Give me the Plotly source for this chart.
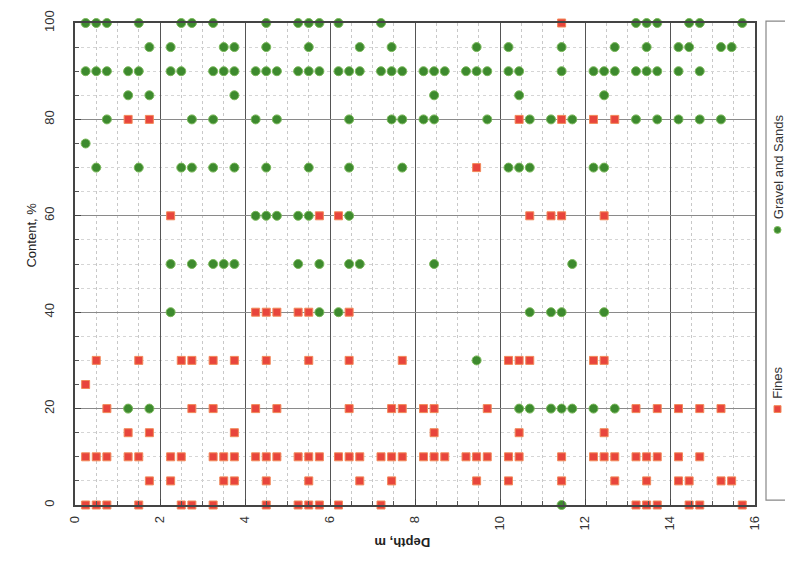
import plotly.graph_objects as go

# ---------------- data ----------------
# Fines (%) : content levels and the depths (m) at which each level occurs
fines_levels = [100, 80, 70, 60, 40, 30, 25, 20, 15, 10, 5, 0]
fines_depths_by_level = [
    [11.45],
    [1.25, 1.75, 10.45, 11.45, 12.2, 12.7],
    [9.45],
    [2.25, 5.75, 6.2, 10.7, 11.2, 11.45, 12.45],
    [4.25, 4.5, 4.75, 5.25, 5.5, 6.45],
    [0.5, 1.5, 2.5, 2.75, 3.25, 3.75, 4.5, 5.5, 6.45, 7.7, 10.2, 10.45, 10.7, 12.2, 12.45],
    [0.25],
    [0.75, 2.75, 3.25, 4.25, 4.75, 6.45, 7.45, 7.7, 8.2, 8.45, 9.7, 13.2, 13.7, 14.2, 14.7, 15.2],
    [1.25, 1.75, 3.75, 8.45, 10.45, 12.45],
    [0.25, 0.5, 0.75, 1.25, 1.5, 2.25, 2.5, 3.25, 3.5, 3.75, 4.25, 4.5, 4.75, 5.25, 5.5, 5.75,
     6.2, 6.45, 6.7, 7.2, 7.45, 7.7, 8.2, 8.45, 8.7, 9.2, 9.45, 9.7, 10.2, 10.45, 11.45, 12.2,
     12.45, 12.7, 13.2, 13.45, 13.7, 14.2, 14.7],
    [1.75, 2.25, 3.5, 3.75, 4.5, 5.5, 6.7, 7.45, 9.45, 10.2, 11.45, 12.7, 13.45, 14.2, 14.45, 15.2, 15.45],
    [0.25, 0.5, 0.75, 1.5, 2.5, 2.75, 3.25, 4.5, 5.25, 5.5, 5.75, 6.2, 7.2, 13.2, 13.45, 13.7, 14.45, 14.7, 15.7],
]

# Gravel and Sands (%)
gravel_levels = [100, 95, 90, 85, 80, 75, 70, 60, 50, 40, 30, 20, 0]
gravel_depths_by_level = [
    [0.25, 0.5, 0.75, 1.5, 2.5, 2.75, 3.25, 4.5, 5.25, 5.5, 5.75, 6.2, 7.2, 13.2, 13.45, 13.7, 14.45, 14.7, 15.7],
    [1.75, 2.25, 3.5, 3.75, 4.5, 5.5, 6.7, 7.45, 9.45, 10.2, 11.45, 12.7, 13.45, 14.2, 14.45, 15.2, 15.45],
    [0.25, 0.5, 0.75, 1.25, 1.5, 2.25, 2.5, 3.25, 3.5, 3.75, 4.25, 4.5, 4.75, 5.25, 5.5, 5.75,
     6.2, 6.45, 6.7, 7.2, 7.45, 7.7, 8.2, 8.45, 8.7, 9.2, 9.45, 9.7, 10.2, 10.45, 11.45, 12.2,
     12.45, 12.7, 13.2, 13.45, 13.7, 14.2, 14.7],
    [1.25, 1.75, 3.75, 8.45, 10.45, 12.45],
    [0.75, 2.75, 3.25, 4.25, 4.75, 6.45, 7.45, 7.7, 8.2, 8.45, 9.7, 10.7, 11.2, 11.7, 13.2, 13.7, 14.2, 14.7, 15.2],
    [0.25],
    [0.5, 1.5, 2.5, 2.75, 3.25, 3.75, 4.5, 5.5, 6.45, 7.7, 10.2, 10.45, 10.7, 12.2, 12.45],
    [4.25, 4.5, 4.75, 5.25, 5.5, 6.45],
    [2.25, 2.75, 3.25, 3.5, 3.75, 5.25, 5.75, 6.45, 6.7, 8.45, 11.7],
    [2.25, 5.75, 6.2, 10.7, 11.2, 11.45, 12.45],
    [9.45],
    [1.25, 1.75, 10.45, 10.7, 11.2, 11.45, 11.7, 12.2, 12.7],
    [11.45],
]

x_ticks = [0, 2, 4, 6, 8, 10, 12, 14, 16]
y_ticks = [0, 20, 40, 60, 80, 100]


def flatten(levels, depths_by_level):
    xs, ys = [], []
    for lvl, ds in zip(levels, depths_by_level):
        for d in ds:
            xs.append(d)
            ys.append(lvl)
    return xs, ys


fines_x, fines_y = flatten(fines_levels, fines_depths_by_level)
gravel_x, gravel_y = flatten(gravel_levels, gravel_depths_by_level)

RED = "#e8453c"
RED_EDGE = "#f28a5a"
GREEN = "#3d8a2e"
GREEN_EDGE = "#7ab85a"
FONT = "Liberation Sans, Arial, sans-serif"

fig = go.Figure()
fig.add_trace(go.Scatter(
    x=fines_x, y=fines_y, mode="markers", name="Fines",
    marker=dict(symbol="square", size=8, color=RED, line=dict(color=RED_EDGE, width=1)),
    showlegend=False, cliponaxis=False,
))
fig.add_trace(go.Scatter(
    x=gravel_x, y=gravel_y, mode="markers", name="Gravel and Sands",
    marker=dict(symbol="circle", size=9, color=GREEN, line=dict(color=GREEN_EDGE, width=1)),
    showlegend=False, cliponaxis=False,
))

fig.update_layout(
    width=785, height=575,
    margin=dict(l=75, r=30, t=10, b=70),
    paper_bgcolor="white", plot_bgcolor="white",
    font=dict(family=FONT, size=12, color="#333"),
    xaxis=dict(
        range=[0, 16], tickvals=x_ticks, ticktext=[str(v) for v in x_ticks],
        tickangle=-90, showgrid=True, gridcolor="#555", gridwidth=1.2,
        showline=True, linecolor="#444", linewidth=1.5, mirror=True,
        ticks="inside", ticklen=6, tickcolor="#444", zeroline=False,
        ticklabelstandoff=4, ticklabeloverflow="allow",
        minor=dict(dtick=0.5, showgrid=True, gridcolor="#c8c8c8", griddash="dot",
                   ticks="inside", ticklen=4, tickcolor="#555"),
        tickfont=dict(size=13, color="#333"),
    ),
    yaxis=dict(
        range=[0, 100], tickvals=y_ticks, ticktext=[str(v) for v in y_ticks],
        tickangle=-90, showgrid=True, gridcolor="#8a8a8a", gridwidth=1,
        showline=True, linecolor="#444", linewidth=1.5, mirror=True,
        ticks="inside", ticklen=6, tickcolor="#444", zeroline=False,
        ticklabelstandoff=14, ticklabeloverflow="allow",
        minor=dict(dtick=5, showgrid=True, gridcolor="#d5d5d5", griddash="dot",
                   ticks="inside", ticklen=4, tickcolor="#555"),
        tickfont=dict(size=13, color="#333"),
    ),
)

# axis titles (rotated like the reference)
fig.add_annotation(text="Content, %", xref="paper", yref="paper", x=-0.078, y=0.56,
                   textangle=-90, showarrow=False, font=dict(size=13, color="#222"))
fig.add_annotation(text="<b>Depth, m</b>", xref="paper", yref="paper", x=0.481, y=-0.097,
                   textangle=180, showarrow=False, font=dict(size=13, color="#222"))

# legend drawn by hand (rotated)
px_x = lambda p: (p - 75) / 680.0
px_y = lambda p: (505 - p) / 495.0
fig.add_shape(type="rect", xref="paper", yref="paper",
              x0=px_x(766), x1=px_x(800), y0=px_y(500), y1=px_y(8),
              line=dict(color="#888", width=1.2), fillcolor="rgba(0,0,0,0)")
fig.add_shape(type="rect", xref="paper", yref="paper",
              x0=px_x(774), x1=px_x(781), y0=px_y(410), y1=px_y(403),
              line=dict(color=RED_EDGE, width=1), fillcolor=RED)
fig.add_shape(type="circle", xref="paper", yref="paper",
              x0=px_x(774), x1=px_x(781), y0=px_y(226), y1=px_y(219),
              line=dict(color=GREEN_EDGE, width=1), fillcolor=GREEN)
fig.add_annotation(text="Fines", xref="paper", yref="paper", x=px_x(778), y=px_y(398),
                   xanchor="center", yanchor="bottom", textangle=-90, showarrow=False,
                   font=dict(size=13, color="#333"))
fig.add_annotation(text="Gravel and Sands", xref="paper", yref="paper", x=px_x(778), y=px_y(214),
                   xanchor="center", yanchor="bottom", textangle=-90, showarrow=False,
                   font=dict(size=13, color="#333"))

fig.write_html("out.html")
